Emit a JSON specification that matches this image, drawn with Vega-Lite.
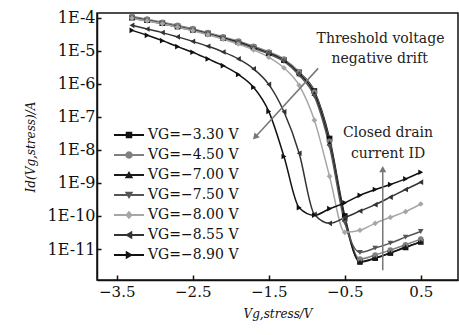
{
"$schema": "https://vega.github.io/schema/vega-lite/v6.json",
"width": 361, "height": 267,
"autosize": {"type": "none"},
"padding": {"left": 97, "top": 13, "right": 1, "bottom": 55},
"background": "white",
"config": {
  "font": "DejaVu Serif",
  "view": {"stroke": "#111", "strokeWidth": 1.5},
  "axis": {"grid": false, "domainColor": "#111", "domainWidth": 1.5, "tickColor": "#111", "tickWidth": 1.5, "labelColor": "#111", "titleColor": "#111", "labelFont": "DejaVu Serif", "titleFont": "DejaVu Serif"},
  "legend": {"orient": "none", "legendX": 25, "legendY": 115, "symbolSize": 100, "symbolStrokeWidth": 0, "symbolOpacity": 1, "labelOffset": 12, "labelFontSize": 14, "labelFont": "DejaVu Serif", "labelColor": "#111", "rowPadding": 6, "padding": 0}
},
"resolve": {"scale": {"color": "independent", "shape": "independent"}},
"datasets": {
  "curves": [
    {"s":"−3.30","v":-3.3,"i":1.0e-4},{"s":"−3.30","v":-3.1,"i":8.3e-5},{"s":"−3.30","v":-2.9,"i":6.8e-5},{"s":"−3.30","v":-2.7,"i":5.4e-5},{"s":"−3.30","v":-2.5,"i":4.3e-5},{"s":"−3.30","v":-2.3,"i":3.3e-5},{"s":"−3.30","v":-2.1,"i":2.45e-5},{"s":"−3.30","v":-1.9,"i":1.8e-5},{"s":"−3.30","v":-1.7,"i":1.26e-5},{"s":"−3.30","v":-1.5,"i":8.5e-6},{"s":"−3.30","v":-1.3,"i":5.2e-6},{"s":"−3.30","v":-1.1,"i":2.2e-6},{"s":"−3.30","v":-0.9,"i":6.0e-7},{"s":"−3.30","v":-0.7,"i":2.2e-8},{"s":"−3.30","v":-0.5,"i":1.0e-10},{"s":"−3.30","v":-0.3,"i":4.2e-12},{"s":"−3.30","v":-0.1,"i":5.4e-12},{"s":"−3.30","v":0.1,"i":7.6e-12},{"s":"−3.30","v":0.3,"i":1.12e-11},{"s":"−3.30","v":0.5,"i":1.66e-11},
    {"s":"−4.50","v":-3.3,"i":1.07e-4},{"s":"−4.50","v":-3.1,"i":8.9e-5},{"s":"−4.50","v":-2.9,"i":7.2e-5},{"s":"−4.50","v":-2.7,"i":5.8e-5},{"s":"−4.50","v":-2.5,"i":4.6e-5},{"s":"−4.50","v":-2.3,"i":3.5e-5},{"s":"−4.50","v":-2.1,"i":2.6e-5},{"s":"−4.50","v":-1.9,"i":1.95e-5},{"s":"−4.50","v":-1.7,"i":1.35e-5},{"s":"−4.50","v":-1.5,"i":9.1e-6},{"s":"−4.50","v":-1.3,"i":5.5e-6},{"s":"−4.50","v":-1.1,"i":2.2e-6},{"s":"−4.50","v":-0.9,"i":5.6e-7},{"s":"−4.50","v":-0.7,"i":1.8e-8},{"s":"−4.50","v":-0.5,"i":7.9e-11},{"s":"−4.50","v":-0.3,"i":5.0e-12},{"s":"−4.50","v":-0.1,"i":6.6e-12},{"s":"−4.50","v":0.1,"i":9.3e-12},{"s":"−4.50","v":0.3,"i":1.35e-11},{"s":"−4.50","v":0.5,"i":2.0e-11},
    {"s":"−7.00","v":-3.3,"i":9.8e-5},{"s":"−7.00","v":-3.1,"i":8.1e-5},{"s":"−7.00","v":-2.9,"i":6.6e-5},{"s":"−7.00","v":-2.7,"i":5.2e-5},{"s":"−7.00","v":-2.5,"i":4.2e-5},{"s":"−7.00","v":-2.3,"i":3.2e-5},{"s":"−7.00","v":-2.1,"i":2.4e-5},{"s":"−7.00","v":-1.9,"i":1.78e-5},{"s":"−7.00","v":-1.7,"i":1.23e-5},{"s":"−7.00","v":-1.5,"i":8.3e-6},{"s":"−7.00","v":-1.3,"i":5.0e-6},{"s":"−7.00","v":-1.1,"i":2.0e-6},{"s":"−7.00","v":-0.9,"i":5.0e-7},{"s":"−7.00","v":-0.7,"i":1.6e-8},{"s":"−7.00","v":-0.5,"i":7.9e-11},{"s":"−7.00","v":-0.3,"i":4.0e-12},{"s":"−7.00","v":-0.1,"i":5.2e-12},{"s":"−7.00","v":0.1,"i":7.6e-12},{"s":"−7.00","v":0.3,"i":1.15e-11},{"s":"−7.00","v":0.5,"i":1.62e-11},
    {"s":"−7.50","v":-3.3,"i":9.5e-5},{"s":"−7.50","v":-3.1,"i":7.9e-5},{"s":"−7.50","v":-2.9,"i":6.5e-5},{"s":"−7.50","v":-2.7,"i":5.1e-5},{"s":"−7.50","v":-2.5,"i":4.1e-5},{"s":"−7.50","v":-2.3,"i":3.2e-5},{"s":"−7.50","v":-2.1,"i":2.3e-5},{"s":"−7.50","v":-1.9,"i":1.7e-5},{"s":"−7.50","v":-1.7,"i":1.17e-5},{"s":"−7.50","v":-1.5,"i":7.9e-6},{"s":"−7.50","v":-1.3,"i":4.7e-6},{"s":"−7.50","v":-1.1,"i":1.8e-6},{"s":"−7.50","v":-0.9,"i":4.2e-7},{"s":"−7.50","v":-0.7,"i":1.26e-8},{"s":"−7.50","v":-0.5,"i":6.3e-11},{"s":"−7.50","v":-0.3,"i":7.9e-12},{"s":"−7.50","v":-0.1,"i":1.07e-11},{"s":"−7.50","v":0.1,"i":1.51e-11},{"s":"−7.50","v":0.3,"i":2.3e-11},{"s":"−7.50","v":0.5,"i":3.4e-11},
    {"s":"−8.00","v":-3.3,"i":9.5e-5},{"s":"−8.00","v":-3.1,"i":7.9e-5},{"s":"−8.00","v":-2.9,"i":6.5e-5},{"s":"−8.00","v":-2.7,"i":5.1e-5},{"s":"−8.00","v":-2.5,"i":4.0e-5},{"s":"−8.00","v":-2.3,"i":3.0e-5},{"s":"−8.00","v":-2.1,"i":2.2e-5},{"s":"−8.00","v":-1.9,"i":1.58e-5},{"s":"−8.00","v":-1.7,"i":1.05e-5},{"s":"−8.00","v":-1.5,"i":6.3e-6},{"s":"−8.00","v":-1.3,"i":3.0e-6},{"s":"−8.00","v":-1.1,"i":8.9e-7},{"s":"−8.00","v":-0.9,"i":7.9e-8},{"s":"−8.00","v":-0.7,"i":1.58e-9},{"s":"−8.00","v":-0.5,"i":3.2e-11},{"s":"−8.00","v":-0.3,"i":3.7e-11},{"s":"−8.00","v":-0.1,"i":6.0e-11},{"s":"−8.00","v":0.1,"i":9.1e-11},{"s":"−8.00","v":0.3,"i":1.35e-10},{"s":"−8.00","v":0.5,"i":2.3e-10},
    {"s":"−8.55","v":-3.3,"i":5.8e-5},{"s":"−8.55","v":-3.1,"i":4.5e-5},{"s":"−8.55","v":-2.9,"i":3.5e-5},{"s":"−8.55","v":-2.7,"i":2.6e-5},{"s":"−8.55","v":-2.5,"i":1.9e-5},{"s":"−8.55","v":-2.3,"i":1.35e-5},{"s":"−8.55","v":-2.1,"i":9.1e-6},{"s":"−8.55","v":-1.9,"i":5.6e-6},{"s":"−8.55","v":-1.7,"i":2.8e-6},{"s":"−8.55","v":-1.5,"i":9.5e-7},{"s":"−8.55","v":-1.3,"i":1.41e-7},{"s":"−8.55","v":-1.1,"i":7.9e-9},{"s":"−8.55","v":-0.9,"i":1.12e-10},{"s":"−8.55","v":-0.7,"i":6.0e-11},{"s":"−8.55","v":-0.5,"i":8.9e-11},{"s":"−8.55","v":-0.3,"i":1.41e-10},{"s":"−8.55","v":-0.1,"i":2.2e-10},{"s":"−8.55","v":0.1,"i":3.7e-10},{"s":"−8.55","v":0.3,"i":6.3e-10},{"s":"−8.55","v":0.5,"i":1.05e-9},
    {"s":"−8.90","v":-3.3,"i":4.1e-5},{"s":"−8.90","v":-3.1,"i":2.9e-5},{"s":"−8.90","v":-2.9,"i":2.0e-5},{"s":"−8.90","v":-2.7,"i":1.32e-5},{"s":"−8.90","v":-2.5,"i":8.9e-6},{"s":"−8.90","v":-2.3,"i":5.6e-6},{"s":"−8.90","v":-2.1,"i":3.5e-6},{"s":"−8.90","v":-1.9,"i":1.9e-6},{"s":"−8.90","v":-1.7,"i":7.8e-7},{"s":"−8.90","v":-1.5,"i":1.45e-7},{"s":"−8.90","v":-1.3,"i":6.3e-9},{"s":"−8.90","v":-1.1,"i":1.78e-10},{"s":"−8.90","v":-0.9,"i":1.05e-10},{"s":"−8.90","v":-0.7,"i":1.66e-10},{"s":"−8.90","v":-0.5,"i":2.5e-10},{"s":"−8.90","v":-0.3,"i":4.2e-10},{"s":"−8.90","v":-0.1,"i":6.3e-10},{"s":"−8.90","v":0.1,"i":8.9e-10},{"s":"−8.90","v":0.3,"i":1.32e-9},{"s":"−8.90","v":0.5,"i":2.1e-9}
  ]
},
"encoding": {
  "x": {"field": "v", "type": "quantitative",
    "scale": {"domain": [-3.76, 0.99], "nice": false, "zero": false},
    "axis": {"values": [-3.5, -2.5, -1.5, -0.5, 0.5], "format": ".1f", "title": "Vg,stress/V", "tickSize": -5, "labelPadding": 9, "labelFontSize": 15, "titleFontSize": 12, "titleFontStyle": "italic", "titleFontWeight": "normal", "titlePadding": 9}},
  "y": {"field": "i", "type": "quantitative",
    "scale": {"type": "log", "domain": [1.16e-12, 1.37e-4], "nice": false},
    "axis": {"values": [1e-4, 1e-5, 1e-6, 1e-7, 1e-8, 1e-9, 1e-10, 1e-11], "labelExpr": "'1E' + round(log(datum.value)/LN10)", "title": "Id(Vg,stress)/A", "tickSize": -4, "labelPadding": 6, "labelFontSize": 16, "titleFontSize": 12, "titleFontStyle": "italic", "titleFontWeight": "normal", "titlePadding": 10}}
},
"layer": [
  {"data": {"name": "curves"},
   "mark": {"type": "point", "filled": true, "opacity": 0, "size": 32},
   "encoding": {
     "color": {"field": "s", "type": "nominal", "scale": {"domain": ["−3.30","−4.50","−7.00","−7.50","−8.00","−8.55","−8.90"], "range": ["#111111","#808080","#1a1a1a","#555555","#a6a6a6","#333333","#111111"]},
       "legend": {"title": null, "labelExpr": "'VG=' + datum.label + ' V'"}},
     "shape": {"field": "s", "type": "nominal", "scale": {"domain": ["−3.30","−4.50","−7.00","−7.50","−8.00","−8.55","−8.90"], "range": [
       "M-3,-0.18H3V0.18H-3Z M-0.65,-0.65H0.65V0.65H-0.65Z",
       "M-3,-0.18H3V0.18H-3Z M0.75,0L0.65,0.375L0.375,0.65L0,0.75L-0.375,0.65L-0.65,0.375L-0.75,0L-0.65,-0.375L-0.375,-0.65L0,-0.75L0.375,-0.65L0.65,-0.375Z",
       "M-3,-0.18H3V0.18H-3Z M0,-0.8L0.85,0.65H-0.85Z",
       "M-3,-0.18H3V0.18H-3Z M-0.85,-0.65H0.85L0,0.8Z",
       "M-3,-0.18H3V0.18H-3Z M0,-0.85L0.75,0L0,0.85L-0.75,0Z",
       "M-3,-0.18H3V0.18H-3Z M-0.8,0L0.65,-0.85V0.85Z",
       "M-3,-0.18H3V0.18H-3Z M0.8,0L-0.65,0.85V-0.85Z"]},
       "legend": {"title": null, "labelExpr": "'VG=' + datum.label + ' V'"}}}},
  {"data": {"name": "curves"},
   "mark": {"type": "line", "interpolate": "monotone", "strokeWidth": 1.5},
   "encoding": {"color": {"field": "s", "type": "nominal", "scale": {"domain": ["−3.30","−4.50","−7.00","−7.50","−8.00","−8.55","−8.90"], "range": ["#111111","#808080","#1a1a1a","#555555","#a6a6a6","#333333","#111111"]}, "legend": null}}},
  {"data": {"name": "curves"},
   "mark": {"type": "point", "filled": true, "opacity": 1, "size": 32},
   "encoding": {
     "color": {"field": "s", "type": "nominal", "scale": {"domain": ["−3.30","−4.50","−7.00","−7.50","−8.00","−8.55","−8.90"], "range": ["#111111","#808080","#1a1a1a","#555555","#a6a6a6","#333333","#111111"]}, "legend": null},
     "shape": {"field": "s", "type": "nominal", "scale": {"domain": ["−3.30","−4.50","−7.00","−7.50","−8.00","−8.55","−8.90"], "range": ["square","circle","triangle-up","triangle-down","diamond","triangle-left","triangle-right"]}, "legend": null}}},
  {"data": {"values": [{"v": -0.85, "i": 2.9e-6, "v2": -1.68, "i2": 2.4e-8}]},
   "layer": [
     {"mark": {"type": "rule", "color": "#777", "strokeWidth": 1.5}, "encoding": {"x2": {"field": "v2"}, "y2": {"field": "i2"}}},
     {"mark": {"type": "point", "shape": "triangle-up", "angle": 222, "filled": true, "color": "#777", "opacity": 1, "size": 50},
      "encoding": {"x": {"field": "v2", "type": "quantitative"}, "y": {"field": "i2", "type": "quantitative"}}}
   ]},
  {"data": {"values": [{"v": 0.0, "i": 2.3e-12, "v2": 0.0, "i2": 2.6e-9}]},
   "layer": [
     {"mark": {"type": "rule", "color": "#777", "strokeWidth": 1.5}, "encoding": {"x2": {"field": "v2"}, "y2": {"field": "i2"}}},
     {"mark": {"type": "point", "shape": "triangle-up", "angle": 0, "filled": true, "color": "#777", "opacity": 1, "size": 50},
      "encoding": {"x": {"field": "v2", "type": "quantitative"}, "y": {"field": "i2", "type": "quantitative"}}}
   ]},
  {"data": {"values": [
     {"label": "Threshold voltage", "v": -0.03, "i": 2.3e-5},
     {"label": "negative drift", "v": -0.04, "i": 5.4e-6},
     {"label": "Closed drain", "v": 0.07, "i": 3.2e-8},
     {"label": "current ID", "v": 0.07, "i": 7.3e-9}]},
   "mark": {"type": "text", "font": "DejaVu Serif", "fontSize": 14, "color": "#222", "align": "center", "baseline": "middle"},
   "encoding": {"text": {"field": "label"}}}
]
}
